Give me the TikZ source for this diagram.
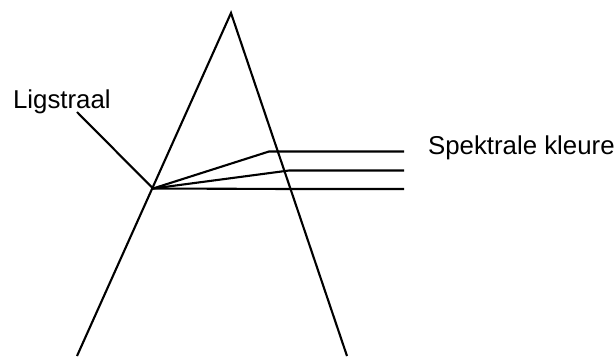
\documentclass[tikz,border=0pt]{standalone}
\usepackage{fontspec}
\setmainfont{Liberation Sans}
\usepackage{tikz}
\usetikzlibrary{positioning}

\begin{document}
\begin{tikzpicture}[x=0.02cm, y=-0.02cm, line width=1.2pt, line join=miter,
        lbl/.style={inner sep=0pt, font=\fontsize{14.7}{17}\selectfont}]
        \useasboundingbox (0, 0) rectangle (616, 358);
        % prisma
        \coordinate (apex) at (231, 13);
        \coordinate (left) at (77, 356);
        \coordinate (right) at (347, 356);
        \draw (left) -- (apex) -- (right);
        % ligstraal
        \node[lbl, anchor=base west] (lig) at (12, 109) {Ligstraal};
        \coordinate (src) at (77, 112);
        \coordinate (in) at (153, 188.5);
        \draw (src) -- (in);
        % spektrale kleure
        \coordinate (b1) at (269, 151.5);
        \coordinate (b2) at (289, 170.5);
        \coordinate (b3) at (290, 189);
        \foreach \i/\y in {1/151.5, 2/170.5, 3/189} {
            \coordinate (e\i) at (404, \y);
            \draw (in) -- (b\i) -- (e\i);
        }
        \node[lbl, anchor=base west] (spek) at (427, 155) {Spektrale kleure};
    \end{tikzpicture}
\end{document}
